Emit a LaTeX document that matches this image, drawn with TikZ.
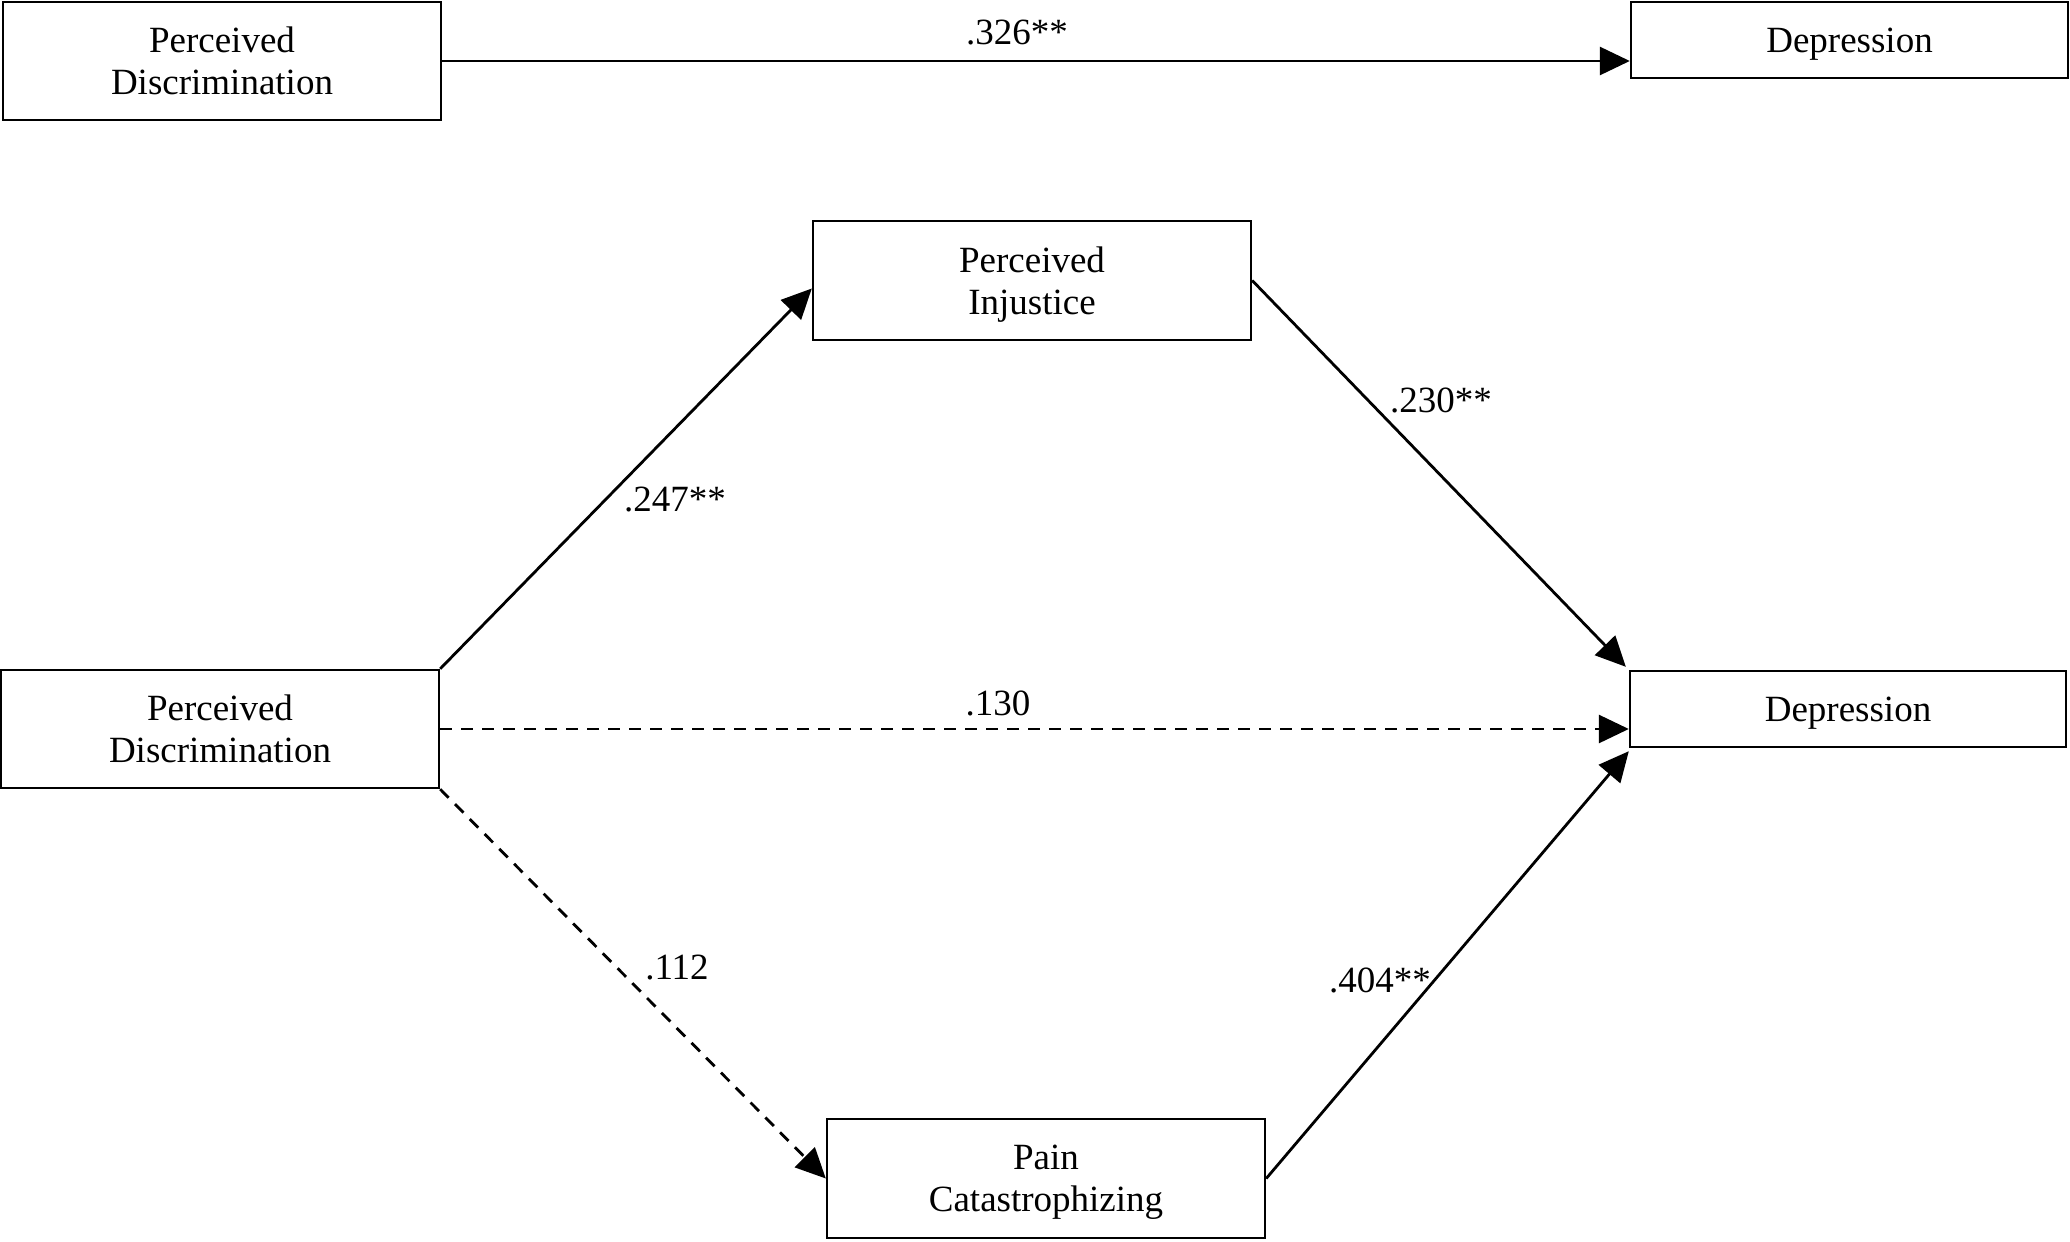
\documentclass[tikz,border=0pt]{standalone}
\usepackage{fontspec}
\setmainfont{Liberation Serif}
\usetikzlibrary{arrows.meta,calc}
\begin{document}
\begin{tikzpicture}[x=0.5pt,y=-0.5pt,
  box/.style={draw,line width=1.2pt,align=center,inner sep=0pt,text depth=0pt,
    font=\fontsize{18.5}{21}\selectfont},
  lbl/.style={font=\fontsize{18.5}{21}\selectfont,inner sep=0pt},
  conn/.style={line width=1.4pt,-{Triangle[length=15pt,width=14pt]}},
  dsh/.style={conn,dash pattern=on 6pt off 4.5pt}]
\useasboundingbox (0,0) rectangle (2070,1241);
\node[box,minimum width=219pt,minimum height=59pt] (pd1) at (222,61) {Perceived\\Discrimination};
\node[box,minimum width=218.5pt,minimum height=38pt] (dep1) at (1849.5,40) {Depression};
\node[box,minimum width=219pt,minimum height=59.5pt] (pi) at (1032,280.5) {Perceived\\Injustice};
\node[box,minimum width=219pt,minimum height=59pt] (pd2) at (220,729) {Perceived\\Discrimination};
\node[box,minimum width=218pt,minimum height=38pt] (dep2) at (1848,709) {Depression};
\node[box,minimum width=219pt,minimum height=59.5pt] (pc) at (1046,1178.5) {Pain\\Catastrophizing};
\draw[conn] (pd1.east) -- (pd1.east -| dep1.west);
\draw[conn] (pd2.north east) -- ($(pi.west)+(0,8)$);
\draw[conn] (pi.east) -- ($(dep2.north west)+(-3,-3)$);
\draw[dsh] (pd2.east) -- (pd2.east -| dep2.west);
\draw[dsh] (pd2.south east) -- (pc.west);
\draw[conn] (pc.east) -- ($(dep2.south west)+(0,3)$);
\node[lbl] (l1) at (1017,33) {.326**};
\node[lbl] (l2) at (675,500) {.247**};
\node[lbl] (l3) at (1441,400) {.230**};
\node[lbl] (l4) at (998,703) {.130};
\node[lbl] (l5) at (677,968) {.112};
\node[lbl] (l6) at (1380,980) {.404**};
\end{tikzpicture}
\end{document}
